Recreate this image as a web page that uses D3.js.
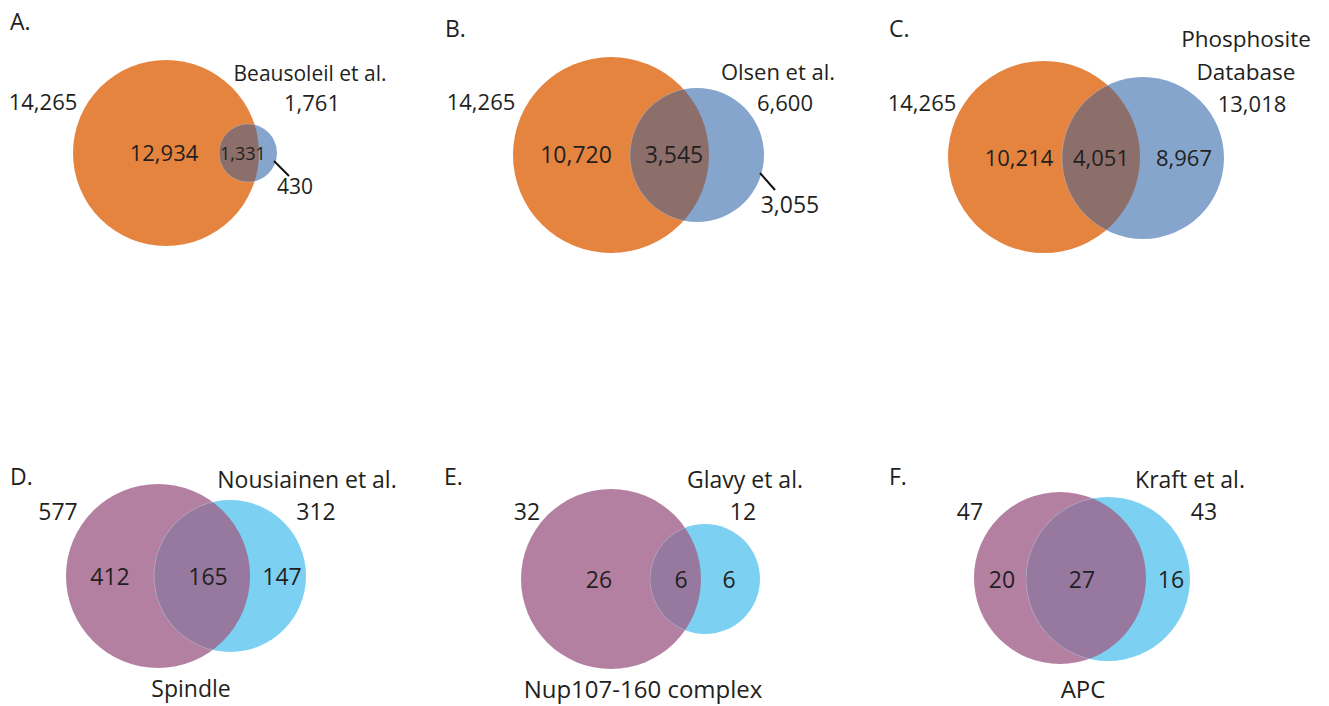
<!DOCTYPE html>
<html><head><meta charset="utf-8">
<script src="https://cdn.jsdelivr.net/npm/d3@7"></script>
<style>body{margin:0;background:#fff}svg{display:block}</style>
</head><body>
<svg id="c" width="1329" height="706"></svg>
<script>
// ---- data ----
const panels      = ["A.", "B.", "C.", "D.", "E.", "F."];
const leftTotals  = ["14,265", "14,265", "14,265", "577", "32", "47"];
const rightNames  = [["Beausoleil et al."], ["Olsen et al."], ["Phosphosite", "Database"], ["Nousiainen et al."], ["Glavy et al."], ["Kraft et al."]];
const rightTotals = ["1,761", "6,600", "13,018", "312", "12", "43"];
const leftOnly    = ["12,934", "10,720", "10,214", "412", "26", "20"];
const bothSets    = ["1,331", "3,545", "4,051", "165", "6", "27"];
const rightOnly   = ["430", "3,055", "8,967", "147", "6", "16"];
const bottomLabel = ["", "", "", "Spindle", "Nup107-160 complex", "APC"];

// ---- layout (pixel geometry of each diagram) ----
const layout = [
  {c1:[166,153,93],  c2:[248,153,29],  lab:[10,30],  lt:[43,110],  rn:[310,81],  rt:[312,111], lo:[164,161], bo:[243,160], ro:[295,194], lead:[[274,161],[289,176]], fs:{n:21,t:22,i:22,b:18,r:21}},
  {c1:[611,155,98],  c2:[697,155,67],  lab:[445,37], lt:[481,110], rn:[778,80],  rt:[785,111], lo:[576,163], bo:[674,163], ro:[790,213], lead:[[760,173],[775,190]], fs:{n:22,t:22,i:23,b:23,r:23}},
  {c1:[1044,157,96], c2:[1143,158,81], lab:[889,37], lt:[922,111], rn:[1246,47], rt:[1252,112], lo:[1019,166], bo:[1101,166], ro:[1184,166], fs:{n:22.5,t:22,i:22,b:22,r:22}},
  {c1:[158,576,92],  c2:[230,576,76],  lab:[10,485], lt:[58,520],  rn:[307,488], rt:[316,520], lo:[110,585], bo:[208,585], ro:[282,585], bl:[191,697], fs:{n:23,t:23,i:23,b:23,r:23,l:23}},
  {c1:[611,579,90],  c2:[705,579,55],  lab:[444,485],lt:[527,520], rn:[745,488], rt:[743,520], lo:[599,588], bo:[681,588], ro:[729,588], bl:[643,698], fs:{n:23,t:23,i:23,b:23,r:23,l:24}},
  {c1:[1060,578,86], c2:[1108,579,82], lab:[889,485],lt:[970,520], rn:[1190,488], rt:[1204,520], lo:[1002,588], bo:[1082,588], ro:[1171,588], bl:[1083,698], fs:{n:23,t:23,i:23,b:23,r:23,l:24}}
];
const palettes = [
  {a:"#E5843F", b:"#85A5CC", ab:"#8C6E6B"},
  {a:"#E5843F", b:"#85A5CC", ab:"#8C6E6B"},
  {a:"#E5843F", b:"#85A5CC", ab:"#8C6E6B"},
  {a:"#B480A1", b:"#7CD1F3", ab:"#9779A0"},
  {a:"#B480A1", b:"#7CD1F3", ab:"#9779A0"},
  {a:"#B480A1", b:"#7CD1F3", ab:"#9779A0"}
];

const svg = d3.select("#c");
const font = "'Open Sans', 'Noto Sans', sans-serif";
const txtCol = "#231F20";
const defs = svg.append("defs");

const g = svg.selectAll("g.panel").data(panels.map((p,i)=>({p,i}))).join("g").attr("class","panel");

g.each(function(d){
  const i = d.i, L = layout[i], P = palettes[i], F = L.fs;
  const sel = d3.select(this);
  defs.append("clipPath").attr("id","clip"+i)
    .append("circle").attr("cx",L.c1[0]).attr("cy",L.c1[1]).attr("r",L.c1[2]);
  sel.append("circle").attr("cx",L.c1[0]).attr("cy",L.c1[1]).attr("r",L.c1[2]).attr("fill",P.a);
  sel.append("circle").attr("cx",L.c2[0]).attr("cy",L.c2[1]).attr("r",L.c2[2]).attr("fill",P.b);
  sel.append("circle").attr("cx",L.c2[0]).attr("cy",L.c2[1]).attr("r",L.c2[2]).attr("fill",P.ab)
    .attr("clip-path","url(#clip"+i+")");
  sel.append("circle").attr("cx",L.c2[0]).attr("cy",L.c2[1]).attr("r",L.c2[2]).attr("fill","none")
    .attr("stroke","rgba(255,255,255,0.25)").attr("stroke-width",0.8).attr("clip-path","url(#clip"+i+")");

  const t = (x,y,s,size,anchor) => sel.append("text").attr("x",x).attr("y",y)
      .attr("text-anchor",anchor||"middle").attr("font-family",font).attr("font-size",size)
      .attr("fill",txtCol).text(s);

  t(L.lab[0], L.lab[1], panels[i], 23, "start");
  t(L.lt[0], L.lt[1], leftTotals[i], F.t);
  rightNames[i].forEach((n,k)=> t(L.rn[0], L.rn[1] + k*33, n, F.n));
  t(L.rt[0], L.rt[1], rightTotals[i], F.t);
  t(L.lo[0], L.lo[1], leftOnly[i], F.i);
  t(L.bo[0], L.bo[1], bothSets[i], F.b);
  t(L.ro[0], L.ro[1], rightOnly[i], F.r);
  if (L.bl) t(L.bl[0], L.bl[1], bottomLabel[i], F.l);
  if (L.lead) sel.append("line").attr("x1",L.lead[0][0]).attr("y1",L.lead[0][1])
      .attr("x2",L.lead[1][0]).attr("y2",L.lead[1][1]).attr("stroke","#111").attr("stroke-width",2);
});
</script>
</body></html>
